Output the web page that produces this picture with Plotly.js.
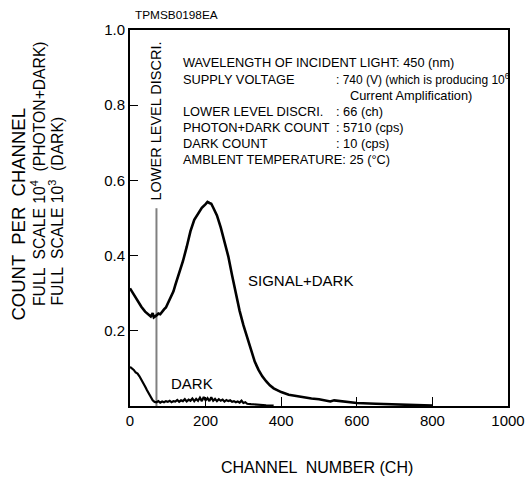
<!DOCTYPE html>
<html>
<head>
<meta charset="utf-8">
<script src="https://cdn.plot.ly/plotly-3.0.1.min.js"></script>
<style>
  html, body { margin: 0; padding: 0; background: #fff; }
  #chart { width: 527px; height: 478px; }
</style>
</head>
<body>
<div id="chart"></div>
<script>
// ---- data ----
const signalCh = [0,10,20,30,40,50,55,60,63,70,75,80,85,90,95,100,105,110,115,120,130,140,150,160,170,180,190,200,205,210,215,220,230,240,250,260,270,280,290,300,310,320,330,340,350,360,370,380,390,400,420,440,460,480,500,520,530,540,560,600,650,700,750,800];
const signalVal = [0.313,0.296,0.279,0.264,0.251,0.242,0.238,0.247,0.236,0.241,0.246,0.244,0.252,0.257,0.262,0.272,0.281,0.292,0.305,0.322,0.352,0.385,0.423,0.465,0.495,0.512,0.527,0.537,0.543,0.540,0.538,0.528,0.507,0.475,0.440,0.398,0.348,0.300,0.253,0.215,0.182,0.148,0.118,0.096,0.079,0.066,0.055,0.047,0.041,0.037,0.030,0.026,0.023,0.020,0.018,0.015,0.012,0.015,0.013,0.008,0.006,0.004,0.003,0.001];

const darkCh = [0,5,10,15,20,25,30,35,40,45,50,55,60,65,70,75,80,85,90,95,100,105,110,115,120,125,130,135,140,145,150,155,160,165,170,175,180,185,190,195,200,205,210,215,220,225,230,235,240,245,250,255,260,265,270,275,280,285,290,295,300,305,310,320,330,340,360,380];
const darkVal = [0.104,0.100,0.096,0.089,0.086,0.079,0.071,0.062,0.052,0.042,0.032,0.022,0.015,0.011,0.010,0.013,0.009,0.012,0.010,0.013,0.011,0.014,0.010,0.013,0.012,0.016,0.011,0.015,0.013,0.018,0.012,0.017,0.014,0.020,0.013,0.019,0.014,0.022,0.013,0.024,0.015,0.021,0.013,0.023,0.014,0.019,0.013,0.018,0.014,0.017,0.012,0.016,0.013,0.015,0.011,0.013,0.010,0.012,0.009,0.014,0.008,0.010,0.006,0.005,0.004,0.003,0.002,0.001];

const discriCh = [70, 70];
const discriVal = [0, 0.526];

const xTicks = [0, 200, 400, 600, 800, 1000];
const xTickText = ["0", "200", "400", "600", "800", "1000"];
const yTicks = [0.2, 0.4, 0.6, 0.8, 1.0];
const yTickText = ["0.2", "0.4", "0.6", "0.8", "1.0"];

const infoLabels = ["WAVELENGTH OF INCIDENT LIGHT: 450 (nm)", "SUPPLY VOLTAGE", "", "LOWER LEVEL DISCRI.", "PHOTON+DARK COUNT", "DARK COUNT", "AMBLENT TEMPERATURE: 25 (°C)"];
const infoValues = ["", ": 740 (V) (which is producing 10<sup>6</sup>", "Current Amplification)", ": 66 (ch)", ": 5710 (cps)", ": 10 (cps)", ""];

// ---- layout helpers (pixel -> paper) ----
const W = 527, H = 478;
const M = {l: 130, r: 19, t: 30, b: 72};
const PW = W - M.l - M.r, PH = H - M.t - M.b;
const px = x => (x - M.l) / PW;
const py = y => (H - M.b - y) / PH;
const FONT = "Liberation Sans, Arial, sans-serif";
const f = (s) => ({family: FONT, size: s, color: '#000'});

const annotations = [];
const A = (o) => annotations.push(Object.assign({showarrow: false, xref: 'paper', yref: 'paper'}, o));

// info block
infoLabels.forEach((t, i) => {
  const yy = py(63 + i * 16);
  if (t) A({x: px(181), y: yy, xanchor: 'left', yanchor: 'middle', text: t, font: f(12.8)});
  const v = infoValues[i];
  if (v) A({x: px(i === 2 ? 348 : 334), y: yy, xanchor: 'left', yanchor: 'middle', text: v, font: f(i === 1 ? 12 : 12.8)});
});
// curve labels
A({xref: 'x', yref: 'y', x: 308, y: 0.335, xanchor: 'left', yanchor: 'middle', text: 'SIGNAL+DARK', font: f(15)});
A({xref: 'x', yref: 'y', x: 104, y: 0.061, xanchor: 'left', yanchor: 'middle', text: 'DARK', font: f(15)});
// lower level discri label
A({x: px(155), y: py(203), xanchor: 'center', yanchor: 'bottom', textangle: -90, text: 'LOWER LEVEL DISCRI.', font: f(14.5)});
// code label
A({x: px(133), y: py(15), xanchor: 'left', yanchor: 'middle', text: 'TPMSB0198EA', font: f(11.8)});
// y title (three lines)
A({x: px(17.5), y: py(323), xanchor: 'center', yanchor: 'bottom', textangle: -90, text: 'COUNT  PER  CHANNEL', font: f(18.5)});
A({x: px(37.5), y: py(308), xanchor: 'center', yanchor: 'bottom', textangle: -90, text: 'FULL  SCALE 10<sup>4</sup>  (PHOTON+DARK)', font: f(15.7)});
A({x: px(56), y: py(308), xanchor: 'center', yanchor: 'bottom', textangle: -90, text: 'FULL  SCALE 10<sup>3</sup>  (DARK)', font: f(15.7)});
// x title
A({x: px(317), y: py(468), xanchor: 'center', yanchor: 'middle', text: 'CHANNEL  NUMBER (CH)', font: f(16)});

const traces = [
  {x: discriCh, y: discriVal, mode: 'lines', line: {color: '#808080', width: 2}},
  {x: darkCh, y: darkVal, mode: 'lines', line: {color: '#000', width: 2.2}, name: 'DARK'},
  {x: signalCh, y: signalVal, mode: 'lines', line: {color: '#000', width: 2.6}, name: 'SIGNAL+DARK'}
];

const layout = {
  width: W, height: H,
  margin: M,
  paper_bgcolor: '#fff', plot_bgcolor: '#fff',
  showlegend: false,
  font: {family: FONT, color: '#000'},
  xaxis: {range: [0, 1000], tickvals: xTicks, ticktext: xTickText, ticks: 'inside', ticklen: 9, tickwidth: 1, tickcolor: '#000',
          showline: true, mirror: true, linecolor: '#000', linewidth: 2, showgrid: false, zeroline: false,
          tickfont: f(15), fixedrange: true},
  yaxis: {range: [0, 1.0], tickvals: yTicks, ticktext: yTickText, ticks: 'inside', ticklen: 8, tickwidth: 1, tickcolor: '#000',
          showline: true, mirror: true, linecolor: '#000', linewidth: 2, showgrid: false, zeroline: false,
          tickfont: f(15), fixedrange: true},
  annotations: annotations
};

Plotly.newPlot('chart', traces, layout, {displayModeBar: false, staticPlot: true});
</script>
</body>
</html>
